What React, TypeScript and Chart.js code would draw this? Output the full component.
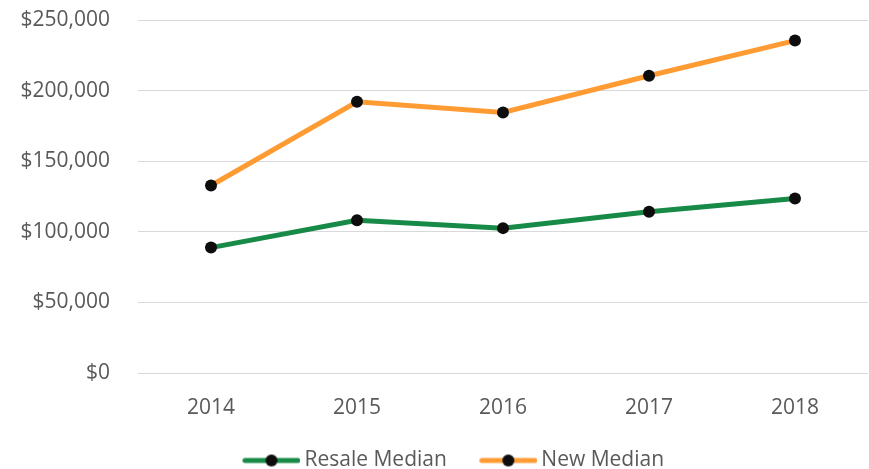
import React, { useEffect, useRef } from "react";
import { Chart, registerables } from "chart.js";

Chart.register(...registerables);

const years = ["2014", "2015", "2016", "2017", "2018"];
const resaleMedian = [88800, 108100, 102600, 114200, 123600];
const newMedian = [132800, 192100, 184500, 210500, 235400];
const seriesNames = ["Resale Median", "New Median"];
const seriesColors = ["#168A46", "#FF9B33"];
const yTicks = [0, 50000, 100000, 150000, 200000, 250000];

const FONT = "'Open Sans', 'Noto Sans', sans-serif";
const FS = 21;

function legendImage(color: string): HTMLCanvasElement {
  const c = document.createElement("canvas");
  c.width = 87;
  c.height = 14;
  const ctx = c.getContext("2d")!;
  ctx.strokeStyle = color;
  ctx.lineWidth = 5;
  ctx.lineCap = "round";
  ctx.beginPath();
  ctx.moveTo(31.5, 7);
  ctx.lineTo(84.5, 7);
  ctx.stroke();
  ctx.fillStyle = "#0D0D0D";
  ctx.beginPath();
  ctx.arc(58, 7, 6, 0, Math.PI * 2);
  ctx.fill();
  return c;
}

export default function App() {
  const ref = useRef<HTMLCanvasElement>(null);
  useEffect(() => {
    if (!ref.current) return;
    const images = seriesColors.map(legendImage);
    const chart = new Chart(ref.current, {
      type: "line",
      data: {
        labels: years,
        datasets: [
          {
            label: seriesNames[0],
            data: resaleMedian,
            borderColor: seriesColors[0],
            backgroundColor: seriesColors[0],
            borderWidth: 5,
            pointRadius: 6,
            pointBackgroundColor: "#0D0D0D",
            pointBorderColor: "#0D0D0D",
            pointBorderWidth: 0,
            tension: 0,
          },
          {
            label: seriesNames[1],
            data: newMedian,
            borderColor: seriesColors[1],
            backgroundColor: seriesColors[1],
            borderWidth: 5,
            pointRadius: 6,
            pointBackgroundColor: "#0D0D0D",
            pointBorderColor: "#0D0D0D",
            pointBorderWidth: 0,
            tension: 0,
          },
        ],
      },
      options: {
        animation: false,
        responsive: false,
        maintainAspectRatio: false,
        layout: { autoPadding: false, padding: { top: 20, right: 1, left: 16, bottom: 0 } },
        plugins: {
          tooltip: { enabled: false },
          legend: {
            position: "bottom",
            labels: {
              usePointStyle: true,
              pointStyleWidth: 74,
              padding: 10,
              color: "#595959",
              font: { family: FONT, size: FS },
              generateLabels: (ch: any) =>
                ch.data.datasets.map((ds: any, i: number) => ({
                  text: ds.label,
                  fillStyle: seriesColors[i],
                  strokeStyle: seriesColors[i],
                  lineWidth: 0,
                  pointStyle: images[i],
                  hidden: false,
                  datasetIndex: i,
                  fontColor: "#595959",
                })),
            },
          },
        },
        scales: {
          x: {
            offset: true,
            grid: { display: false, drawTicks: false },
            border: { display: false },
            ticks: {
              color: "#595959",
              font: { family: FONT, size: FS },
              padding: 22,
            },
            afterFit: (s: any) => {
              s.height = 67;
              s.paddingLeft = 0;
              s.paddingRight = 0;
            },
          },
          y: {
            min: 0,
            max: 250000,
            grid: { color: "#D9D9D9", lineWidth: 1, drawTicks: false },
            border: { display: false },
            afterBuildTicks: (s: any) => {
              s.ticks = yTicks.map((v) => ({ value: v }));
            },
            ticks: {
              color: "#595959",
              font: { family: FONT, size: FS },
              padding: 28,
              callback: (v: any) => "$" + Number(v).toLocaleString("en-US"),
            },
            afterFit: (s: any) => {
              s.width = 122;
              s.paddingTop = 12;
              s.paddingBottom = 12;
            },
          },
        },
      },
    });
    return () => chart.destroy();
  }, []);
  return (
    <div style={{ position: "fixed", left: 0, top: 0, width: 869, height: 481, background: "#fff" }}>
      <canvas ref={ref} width={869} height={481} style={{ width: 869, height: 481 }} />
    </div>
  );
}
